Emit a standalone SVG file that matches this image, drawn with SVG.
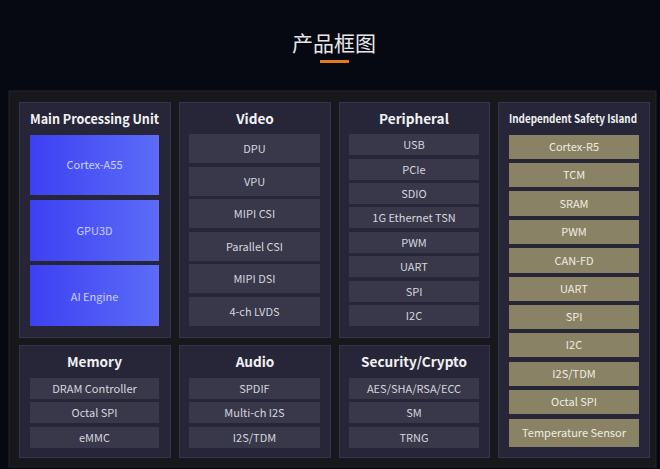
<svg xmlns="http://www.w3.org/2000/svg" width="660" height="469" viewBox="0 0 660 469">
<defs>
<linearGradient id="blue" x1="0" y1="0" x2="1" y2="0">
<stop offset="0" stop-color="#3d40f2"/>
<stop offset="1" stop-color="#5c6cf7"/>
</linearGradient>
<style>
text{font-family:"Noto Sans CJK SC","Noto Sans",sans-serif;text-anchor:middle}
.panel{fill:#262638;stroke:#34354a;stroke-width:1}
.item{fill:#38384a}
.gold{fill:#8a8265}
.bl{fill:url(#blue)}
.h{font-size:13.6px;font-weight:bold;fill:#f2f2f4}
.t{font-size:11px;fill:#d6d6de}
.tb{font-size:11px;fill:#cdd3ff}
.tg{font-size:11px;fill:#f0ece0}
</style>
</defs>
<rect width="660" height="469" fill="#060912"/>
<g id="title">
<text x="334" y="51" style="font-size:21px;fill:#e8e8ea">产品框图</text>
<rect x="320" y="60" width="29" height="3" fill="#e47a1c"/>
</g>
<rect x="9" y="91" width="647" height="376" fill="#18181c" stroke="#26262b"/>

<g id="mpu">
<rect class="panel" x="19.5" y="102.5" width="151" height="235"/>
<text class="h" x="94.5" y="124" textLength="129" lengthAdjust="spacingAndGlyphs">Main Processing Unit</text>
<rect class="bl" x="30" y="135" width="129" height="60"/>
<text class="tb" x="94.5" y="169">Cortex-A55</text>
<rect class="bl" x="30" y="200" width="129" height="61"/>
<text class="tb" x="94.5" y="235">GPU3D</text>
<rect class="bl" x="30" y="265" width="129" height="61"/>
<text class="tb" x="94.5" y="301">AI Engine</text>
</g>

<g id="video">
<rect class="panel" x="179.5" y="102.5" width="151" height="235"/>
<text class="h" x="255" y="124">Video</text>
<rect class="item" x="189" y="134" width="131" height="29"/>
<text class="t" x="254.5" y="152.5">DPU</text>
<rect class="item" x="189" y="167" width="131" height="29"/>
<text class="t" x="254.5" y="185.5">VPU</text>
<rect class="item" x="189" y="199" width="131" height="29"/>
<text class="t" x="254.5" y="217.5">MIPI CSI</text>
<rect class="item" x="189" y="232" width="131" height="29"/>
<text class="t" x="254.5" y="250.5">Parallel CSI</text>
<rect class="item" x="189" y="264" width="131" height="29"/>
<text class="t" x="254.5" y="282.5">MIPI DSI</text>
<rect class="item" x="189" y="297" width="131" height="29"/>
<text class="t" x="254.5" y="315.5">4-ch LVDS</text>
</g>

<g id="peripheral">
<rect class="panel" x="339.5" y="102.5" width="150" height="235"/>
<text class="h" x="414" y="124">Peripheral</text>
<rect class="item" x="349" y="134" width="130" height="21"/>
<text class="t" x="414" y="148.5">USB</text>
<rect class="item" x="349" y="159" width="130" height="21"/>
<text class="t" x="414" y="173.5">PCIe</text>
<rect class="item" x="349" y="183" width="130" height="21"/>
<text class="t" x="414" y="197.5">SDIO</text>
<rect class="item" x="349" y="207" width="130" height="21"/>
<text class="t" x="414" y="221.5">1G Ethernet TSN</text>
<rect class="item" x="349" y="232" width="130" height="21"/>
<text class="t" x="414" y="246.5">PWM</text>
<rect class="item" x="349" y="256" width="130" height="21"/>
<text class="t" x="414" y="270.5">UART</text>
<rect class="item" x="349" y="281" width="130" height="21"/>
<text class="t" x="414" y="295.5">SPI</text>
<rect class="item" x="349" y="305" width="130" height="21"/>
<text class="t" x="414" y="319.5">I2C</text>
</g>

<g id="safety">
<rect class="panel" x="498.5" y="102.5" width="151" height="355"/>
<text class="h" x="573" y="123" style="font-size:11px" textLength="128" lengthAdjust="spacingAndGlyphs">Independent Safety Island</text>
<rect class="gold" x="509" y="135" width="130" height="24"/>
<text class="tg" x="574" y="151">Cortex-R5</text>
<rect class="gold" x="509" y="163" width="130" height="24"/>
<text class="tg" x="574" y="179">TCM</text>
<rect class="gold" x="509" y="191" width="130" height="25"/>
<text class="tg" x="574" y="207.5">SRAM</text>
<rect class="gold" x="509" y="220" width="130" height="24"/>
<text class="tg" x="574" y="236">PWM</text>
<rect class="gold" x="509" y="248" width="130" height="25"/>
<text class="tg" x="574" y="264.5">CAN-FD</text>
<rect class="gold" x="509" y="277" width="130" height="24"/>
<text class="tg" x="574" y="293">UART</text>
<rect class="gold" x="509" y="305" width="130" height="24"/>
<text class="tg" x="574" y="321">SPI</text>
<rect class="gold" x="509" y="333" width="130" height="24"/>
<text class="tg" x="574" y="349">I2C</text>
<rect class="gold" x="509" y="362" width="130" height="24"/>
<text class="tg" x="574" y="378">I2S/TDM</text>
<rect class="gold" x="509" y="390" width="130" height="24"/>
<text class="tg" x="574" y="406">Octal SPI</text>
<rect class="gold" x="509" y="419" width="130" height="28"/>
<text class="tg" x="574" y="437">Temperature Sensor</text>
</g>

<g id="memory">
<rect class="panel" x="19.5" y="345.5" width="151" height="112"/>
<text class="h" x="94.5" y="367">Memory</text>
<rect class="item" x="30" y="378" width="129" height="21"/>
<text class="t" x="94.5" y="392.5">DRAM Controller</text>
<rect class="item" x="30" y="402" width="129" height="21"/>
<text class="t" x="94.5" y="416.5">Octal SPI</text>
<rect class="item" x="30" y="427" width="129" height="21"/>
<text class="t" x="94.5" y="441.5">eMMC</text>
</g>

<g id="audio">
<rect class="panel" x="179.5" y="345.5" width="151" height="112"/>
<text class="h" x="255" y="367">Audio</text>
<rect class="item" x="189" y="378" width="131" height="21"/>
<text class="t" x="254.5" y="392.5">SPDIF</text>
<rect class="item" x="189" y="402" width="131" height="21"/>
<text class="t" x="254.5" y="416.5">Multi-ch I2S</text>
<rect class="item" x="189" y="427" width="131" height="21"/>
<text class="t" x="254.5" y="441.5">I2S/TDM</text>
</g>

<g id="security">
<rect class="panel" x="339.5" y="345.5" width="150" height="112"/>
<text class="h" x="414" y="367">Security/Crypto</text>
<rect class="item" x="349" y="378" width="130" height="21"/>
<text class="t" x="414" y="392.5">AES/SHA/RSA/ECC</text>
<rect class="item" x="349" y="402" width="130" height="21"/>
<text class="t" x="414" y="416.5">SM</text>
<rect class="item" x="349" y="427" width="130" height="21"/>
<text class="t" x="414" y="441.5">TRNG</text>
</g>
<g id="connectors"/>
</svg>
